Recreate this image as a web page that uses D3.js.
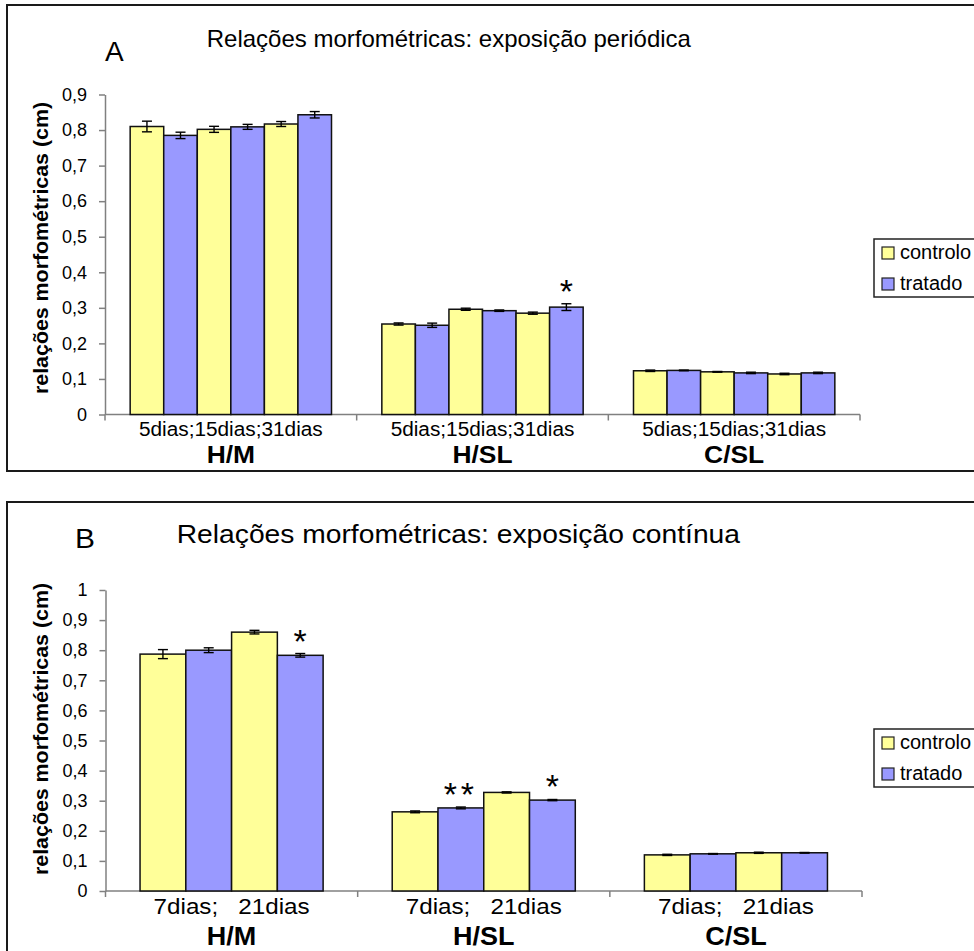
<!DOCTYPE html>
<html><head><meta charset="utf-8">
<script src="https://cdn.jsdelivr.net/npm/d3@7"></script>
<style>
body{margin:0;background:#fff}
svg{display:block}
text{font-family:"Liberation Sans",Arial,sans-serif;fill:#000}
</style>
</head><body>
<svg id="chart" width="974" height="951"></svg>
<script>
// ---------- DATA ----------
const groups = ["H/M", "H/SL", "C/SL"];
const seriesNames = ["controlo", "tratado"];
const seriesColors = ["#FFFF99", "#9999FF"];
const yTitle = "relações morfométricas (cm)";

// Panel A – exposição periódica
const titleA = "Relações morfométricas: exposição periódica";
const periodsA = ["5dias", "15dias", "31dias"];
const controloA = [[0.810, 0.802, 0.817], [0.2545, 0.296, 0.285], [0.123, 0.120, 0.114]];
const tratadoA  = [[0.785, 0.809, 0.843], [0.251, 0.292, 0.302], [0.124, 0.117, 0.117]];
const controloErrA = [[0.015, 0.0085, 0.007], [0.003, 0.003, 0.003], [0.002, 0.001, 0.002]];
const tratadoErrA  = [[0.009, 0.007, 0.009], [0.006, 0.002, 0.0095], [0.001, 0.002, 0.002]];
const sigTratadoA  = [["", "", ""], ["", "", "*"], ["", "", ""]];
const yTicksA = [0, 0.1, 0.2, 0.3, 0.4, 0.5, 0.6, 0.7, 0.8, 0.9];

// Panel B – exposição contínua
const titleB = "Relações morfométricas: exposição contínua";
const periodsB = ["7dias", "21dias"];
const controloB = [[0.787, 0.860], [0.263, 0.3275], [0.120, 0.127]];
const tratadoB  = [[0.800, 0.783], [0.276, 0.302], [0.1235, 0.127]];
const controloErrB = [[0.015, 0.006], [0.003, 0.002], [0.002, 0.002]];
const tratadoErrB  = [[0.008, 0.006], [0.003, 0.002], [0.001, 0.001]];
const sigTratadoB  = [["", "*"], ["**", "*"], ["", ""]];
const yTicksB = [0, 0.1, 0.2, 0.3, 0.4, 0.5, 0.6, 0.7, 0.8, 0.9, 1];

// ---------- LAYOUT ----------
const panels = [
  { letter: "A", title: titleA, periods: periodsA, catLabel: periodsA.join(";"),
    controlo: controloA, tratado: tratadoA, cErr: controloErrA, tErr: tratadoErrA, sig: sigTratadoA,
    yMax: 0.9, yTicks: yTicksA,
    L: { frameY: 5, frameH: 466, xRange: [105, 860], yRange: [414.5, 94.5], padInner: 0.2,
         letterX: 105, letterY: 61, letterSx: 1, titleX: 206.7, titleY: 47, titleSize: 24, titleSx: 1,
         catY: 436, catSize: 20, catSx: 1.04, grpY: 463, grpSize: 24, grpSx: 1.1,
         yTitleY: 248, legendY: 239 } },
  { letter: "B", title: titleB, periods: periodsB, catLabel: periodsB.join(";   "),
    controlo: controloB, tratado: tratadoB, cErr: controloErrB, tErr: tratadoErrB, sig: sigTratadoB,
    yMax: 1, yTicks: yTicksB,
    L: { frameY: 502, frameH: 470, xRange: [105.5, 862], yRange: [891, 590], padInner: 0.274,
         letterX: 75, letterY: 548, letterSx: 1.07, titleX: 176.7, titleY: 543, titleSize: 25, titleSx: 1.13,
         catY: 914, catSize: 22, catSx: 1.1, grpY: 945, grpSize: 25, grpSx: 1.08,
         yTitleY: 729, legendY: 729 } }
];

const svg = d3.select("#chart");
svg.append("rect").attr("width", 974).attr("height", 951).attr("fill", "#fff");

function txt(g, x, y, s, size, sx, anchor, weight) {
  return g.append("text")
    .attr("transform", `translate(${x},${y}) scale(${sx},1)`)
    .attr("text-anchor", anchor || "start")
    .attr("font-size", size)
    .attr("font-weight", weight || "normal")
    .style("white-space", "pre")
    .attr("xml:space", "preserve")
    .text(s);
}

panels.forEach(p => {
  const L = p.L;
  const g = svg.append("g");

  // frame
  g.append("rect").attr("x", 7).attr("y", L.frameY).attr("width", 990).attr("height", L.frameH)
    .attr("fill", "#fff").attr("stroke", "#1a1a1a").attr("stroke-width", 2);

  const x0 = d3.scaleBand().domain(groups).range(L.xRange)
    .paddingInner(L.padInner).paddingOuter(L.padInner / 2);
  const items = [];
  p.periods.forEach(per => seriesNames.forEach(s => items.push(per + "|" + s)));
  const x1 = d3.scaleBand().domain(items).range([0, x0.bandwidth()]);
  const y = d3.scaleLinear().domain([0, p.yMax]).range(L.yRange);

  // y axis
  const yAxis = d3.axisLeft(y).tickValues(p.yTicks).tickSize(6).tickSizeOuter(0).tickPadding(12)
    .tickFormat(d => String(+d.toFixed(1)).replace(".", ","));
  const ya = g.append("g").attr("transform", `translate(${L.xRange[0]},0)`).call(yAxis);
  ya.select(".domain").attr("stroke", "#808080").attr("stroke-width", 1.5);
  ya.selectAll(".tick line").attr("stroke", "#808080").attr("stroke-width", 1.5);
  ya.selectAll(".tick text").attr("font-size", 18).attr("fill", "#000")
    .attr("font-family", '"Liberation Sans",Arial,sans-serif');

  // x axis line and category boundary ticks
  const base = y(0);
  g.append("line").attr("x1", L.xRange[0]).attr("x2", L.xRange[1]).attr("y1", base).attr("y2", base)
    .attr("stroke", "#808080").attr("stroke-width", 1.5);
  const step = x0.step();
  d3.range(groups.length + 1).forEach(i => {
    const xx = L.xRange[0] + i * step;
    g.append("line").attr("x1", xx).attr("x2", xx).attr("y1", base).attr("y2", base + 6)
      .attr("stroke", "#808080").attr("stroke-width", 1.5);
  });

  // bars
  const bars = [];
  groups.forEach((grp, gi) => {
    p.periods.forEach((per, pi) => {
      seriesNames.forEach((s, si) => {
        const v = si === 0 ? p.controlo[gi][pi] : p.tratado[gi][pi];
        const e = si === 0 ? p.cErr[gi][pi] : p.tErr[gi][pi];
        const sig = si === 0 ? "" : p.sig[gi][pi];
        bars.push({ grp, key: per + "|" + s, si, v, e, sig });
      });
    });
  });

  g.selectAll("rect.bar").data(bars).enter().append("rect").attr("class", "bar")
    .attr("x", d => x0(d.grp) + x1(d.key))
    .attr("y", d => y(d.v))
    .attr("width", x1.bandwidth())
    .attr("height", d => base - y(d.v))
    .attr("fill", d => seriesColors[d.si])
    .attr("stroke", "#111").attr("stroke-width", 1.5);

  // error bars
  const eb = g.selectAll("g.err").data(bars).enter().append("g").attr("class", "err")
    .attr("transform", d => `translate(${x0(d.grp) + x1(d.key) + x1.bandwidth() / 2},0)`);
  eb.append("line").attr("x1", 0).attr("x2", 0).attr("y1", d => y(d.v + d.e)).attr("y2", d => y(d.v - d.e))
    .attr("stroke", "#000").attr("stroke-width", 1.4);
  eb.append("line").attr("x1", -5).attr("x2", 5).attr("y1", d => y(d.v + d.e)).attr("y2", d => y(d.v + d.e))
    .attr("stroke", "#000").attr("stroke-width", 1.4);
  eb.append("line").attr("x1", -5).attr("x2", 5).attr("y1", d => y(d.v - d.e)).attr("y2", d => y(d.v - d.e))
    .attr("stroke", "#000").attr("stroke-width", 1.4);

  // significance asterisks
  bars.filter(d => d.sig).forEach(d => {
    g.append("text")
      .attr("x", x0(d.grp) + x1(d.key) + x1.bandwidth() / 2)
      .attr("y", y(d.v + d.e) - 1)
      .attr("text-anchor", "middle").attr("font-size", 34)
      .attr("letter-spacing", d.sig.length > 1 ? 4 : 0)
      .text(d.sig);
  });

  // category labels
  groups.forEach(grp => {
    const cx = x0(grp) + x0.bandwidth() / 2;
    txt(g, cx, L.catY, p.catLabel, L.catSize, L.catSx, "middle");
    txt(g, cx, L.grpY, grp, L.grpSize, L.grpSx, "middle", "bold");
  });

  // y title
  g.append("text")
    .attr("transform", `translate(48,${L.yTitleY}) rotate(-90)`)
    .attr("text-anchor", "middle").attr("font-size", 21).attr("font-weight", "bold")
    .attr("textLength", 292).attr("lengthAdjust", "spacingAndGlyphs")
    .text(yTitle);

  // titles
  txt(g, L.letterX, L.letterY, p.letter, 28, L.letterSx, "start");
  txt(g, L.titleX, L.titleY, p.title, L.titleSize, L.titleSx, "start");

  // legend
  const lg = g.append("g").attr("transform", `translate(874,${L.legendY})`);
  lg.append("rect").attr("x", 0).attr("y", 0).attr("width", 130).attr("height", 58)
    .attr("fill", "#fff").attr("stroke", "#222").attr("stroke-width", 1.5);
  seriesNames.forEach((s, i) => {
    lg.append("rect").attr("x", 8).attr("y", 8 + i * 31).attr("width", 12).attr("height", 12)
      .attr("fill", seriesColors[i]).attr("stroke", "#222").attr("stroke-width", 1.2);
    lg.append("text").attr("x", 26).attr("y", 20 + i * 31).attr("font-size", 20).text(s);
  });
});
</script>
</body></html>
